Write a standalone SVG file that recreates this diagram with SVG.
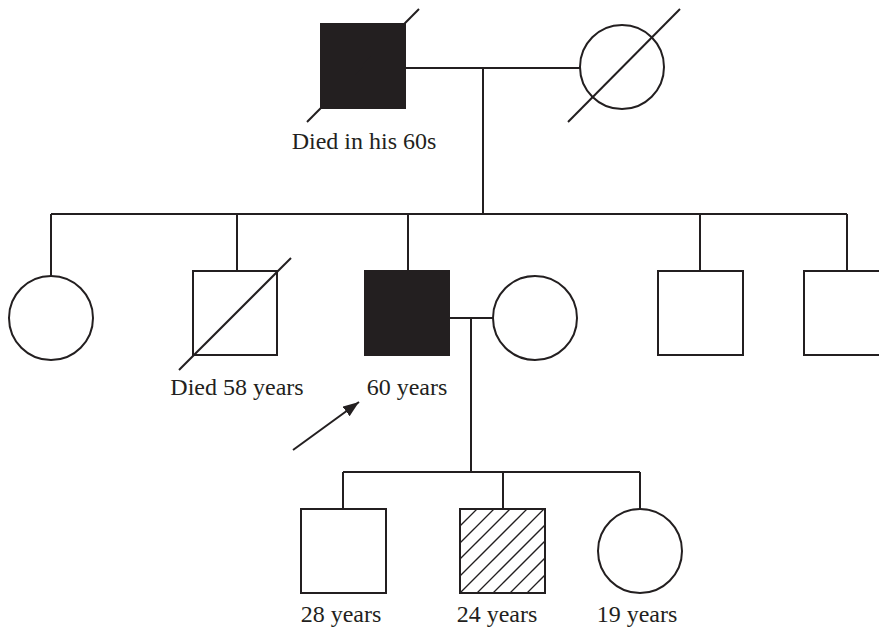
<svg xmlns="http://www.w3.org/2000/svg" width="879" height="629" viewBox="0 0 879 629">
  <style>
    .ln { stroke: #231f20; stroke-width: 2; fill: none; }
    .sym { stroke: #231f20; stroke-width: 2; fill: #ffffff; }
    .aff { stroke: #231f20; stroke-width: 2; fill: #231f20; }
    .hat { stroke: #231f20; stroke-width: 1.3; }
    .lbl { font-family: "Liberation Serif", "Times New Roman", serif; font-size: 24px; fill: #231f20; text-anchor: middle; }
  </style>
  <defs>
    <marker id="ah" viewBox="0 0 10 10" refX="10" refY="5" markerWidth="10" markerHeight="10" markerUnits="userSpaceOnUse" orient="auto">
      <path d="M0,0 L10,5 L0,10 z" fill="#231f20"/>
    </marker>
    <marker id="ahBig" viewBox="0 0 16 12" refX="16" refY="6" markerWidth="16" markerHeight="12" markerUnits="userSpaceOnUse" orient="auto">
      <path d="M0,0 L16,6 L0,12 z" fill="#231f20"/>
    </marker>
    <clipPath id="hclip"><rect x="460" y="509" width="85" height="84"/></clipPath>
  </defs>

  <g id="connectors">
    <line class="ln" x1="405" y1="68" x2="580" y2="68"/>
    <line class="ln" x1="483" y1="68" x2="483" y2="214"/>
    <line class="ln" x1="51" y1="214" x2="847" y2="214"/>
    <line class="ln" x1="51" y1="214" x2="51" y2="276"/>
    <line class="ln" x1="237" y1="214" x2="237" y2="271"/>
    <line class="ln" x1="408" y1="214" x2="408" y2="271"/>
    <line class="ln" x1="700" y1="214" x2="700" y2="271"/>
    <line class="ln" x1="847" y1="214" x2="847" y2="271"/>
    <line class="ln" x1="449" y1="318" x2="493" y2="318"/>
    <line class="ln" x1="471" y1="318" x2="471" y2="472"/>
    <line class="ln" x1="343" y1="472" x2="640" y2="472"/>
    <line class="ln" x1="343" y1="472" x2="343" y2="509"/>
    <line class="ln" x1="503" y1="472" x2="503" y2="509"/>
    <line class="ln" x1="640" y1="472" x2="640" y2="509"/>
    <line class="ln" x1="293" y1="450" x2="359" y2="402" stroke-width="1.5" marker-end="url(#ahBig)"/>
  </g>

  <g id="grandfather">
    <rect class="aff" x="321" y="24" width="84" height="84"/>
    <line class="ln" x1="307" y1="122" x2="419" y2="9"/>
    <text class="lbl" x="364" y="149">Died in his 60s</text>
  </g>

  <g id="grandmother">
    <circle class="sym" cx="622" cy="67" r="42"/>
    <line class="ln" x1="568" y1="122" x2="680" y2="9"/>
  </g>

  <g id="aunt">
    <circle class="sym" cx="51" cy="318" r="42"/>
  </g>

  <g id="uncle-deceased">
    <rect class="sym" x="193" y="271" width="84" height="84"/>
    <line class="ln" x1="179" y1="370" x2="291" y2="258"/>
    <text class="lbl" x="237" y="395">Died 58 years</text>
  </g>

  <g id="proband">
    <rect class="aff" x="365" y="271" width="84" height="84"/>
    <text class="lbl" x="407" y="395">60 years</text>
  </g>

  <g id="spouse">
    <circle class="sym" cx="535" cy="318" r="42"/>
  </g>

  <g id="uncle2">
    <rect class="sym" x="658" y="271" width="85" height="84"/>
  </g>

  <g id="uncle3">
    <rect class="sym" x="804" y="271" width="85" height="84"/>
  </g>

  <g id="son28">
    <rect class="sym" x="301" y="509" width="85" height="84"/>
    <text class="lbl" x="341" y="622">28 years</text>
  </g>

  <g id="son24">
    <rect class="sym" x="460" y="509" width="85" height="84"/>
    <g clip-path="url(#hclip)">
      <line class="hat" x1="460" y1="526" x2="477" y2="509"/>
      <line class="hat" x1="460" y1="543" x2="494" y2="509"/>
      <line class="hat" x1="460" y1="559" x2="510" y2="509"/>
      <line class="hat" x1="460" y1="576" x2="527" y2="509"/>
      <line class="hat" x1="460" y1="593" x2="544" y2="509"/>
      <line class="hat" x1="460" y1="610" x2="561" y2="509"/>
      <line class="hat" x1="460" y1="626" x2="577" y2="509"/>
      <line class="hat" x1="460" y1="643" x2="594" y2="509"/>
      <line class="hat" x1="460" y1="660" x2="611" y2="509"/>
      <line class="hat" x1="460" y1="677" x2="628" y2="509"/>
    </g>
    <rect class="ln" x="460" y="509" width="85" height="84"/>
    <text class="lbl" x="497" y="622">24 years</text>
  </g>

  <g id="daughter19">
    <circle class="sym" cx="640" cy="551" r="42"/>
    <text class="lbl" x="637" y="622">19 years</text>
  </g>
</svg>
